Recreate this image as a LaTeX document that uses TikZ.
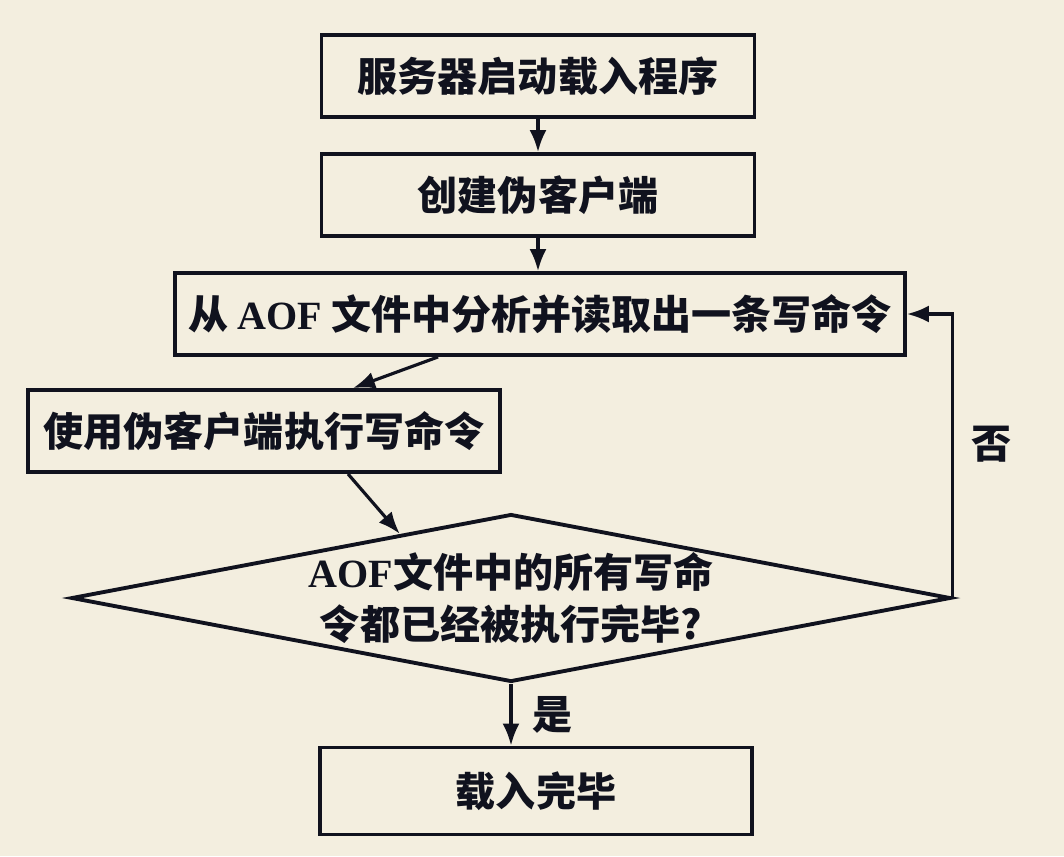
\documentclass[tikz,border=0pt]{standalone}
\usepackage{fontspec}
\setmainfont{Liberation Serif}
\newfontfamily\cjk{Noto Sans CJK SC}
\newfontfamily\latin{Liberation Serif}
\usetikzlibrary{arrows.meta,
                shapes.geometric}
\definecolor{paper}{RGB}{243,238,223}
\definecolor{ink}{RGB}{16,18,30}

\begin{document}
\begin{tikzpicture}[x=0.1mm, y=-0.1mm,
    txt/.style={font=\cjk\bfseries\fontsize{11.4}{14.6}\selectfont},
    box/.style={txt, draw=ink, text=ink, line width=1.1pt, minimum height=8.2mm, inner sep=0pt},
    decision/.style={txt, draw=ink, text=ink, diamond, aspect=5.24, line width=1.1pt,
                     minimum width=87.5mm, minimum height=16.7mm, inner sep=0pt, align=center},
    flow/.style={draw=ink, line width=0.9pt, -{Latex[length=2.2mm,width=1.7mm]}}]
        \fill[paper] (0,0) rectangle (1064,856);
        \node[box, minimum width=43.3mm] (load) at (538,76) {服务器启动载入程序};
        \node[box, minimum width=43.3mm] (fake) at (538,195) {创建伪客户端};
        \node[box, minimum width=73mm] (parse) at (540,314) {从 {\latin AOF} 文件中分析并读取出一条写命令};
        \node[box, minimum width=47.2mm] (exec) at (264,431) {使用伪客户端执行写命令};
        \node[decision] (check) at (511,598) {{\latin AOF}文件中的所有写命\\令都已经被执行完毕?};
        \node[box, minimum width=43.2mm, minimum height=8.7mm] (done) at (536,791) {载入完毕};
        \draw[flow] (fake |- load.south) -- (fake.north);
        \draw[flow] (fake |- fake.south) -- (fake |- parse.north);
        \draw[flow] ([xshift=26.5mm]parse.south west) -- ([xshift=32.7mm]exec.north west);
        \draw[flow] ([xshift=8.4mm]exec.south) -- (check.150);
        \draw[flow] (check.south) -- node[txt, text=ink, right=0.8mm] {是} (check.south |- done.north);
        \draw[flow] (check.east) -- node[txt, text=ink, right=0.6mm, pos=0.54] {否} (check.east |- parse.east) -- (parse.east);
\end{tikzpicture}
\end{document}
